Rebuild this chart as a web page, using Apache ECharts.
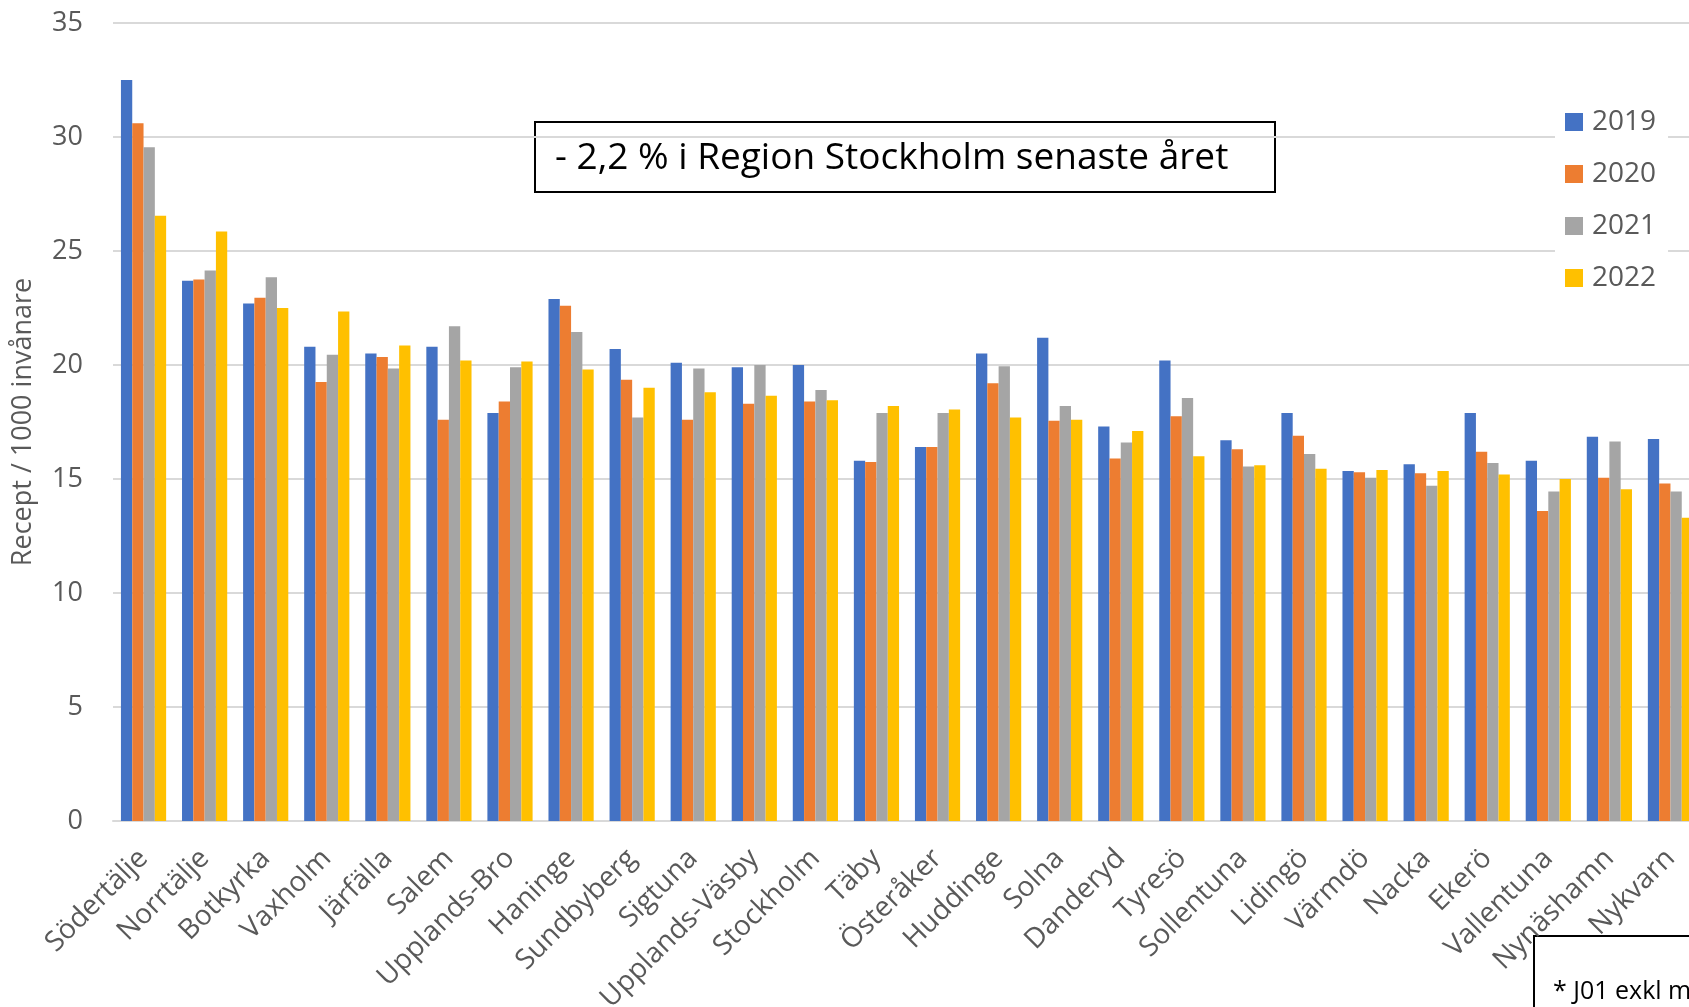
<!DOCTYPE html>
<html>
<head>
<meta charset="utf-8">
<title>Recept / 1000 invånare</title>
<script src="https://cdn.jsdelivr.net/npm/echarts@6/dist/echarts.min.js"></script>
<style>
  html, body { margin: 0; padding: 0; background: #fff; overflow: hidden; }
  /* the chart is wider than the window: the last group is cut off, as in the original */
  #main { width: 1720px; height: 1007px; }
</style>
</head>
<body>
<div id="main"></div>
<script>
// kommuner
var kommuner = ['Södertälje', 'Norrtälje', 'Botkyrka', 'Vaxholm', 'Järfälla', 'Salem', 'Upplands-Bro',
  'Haninge', 'Sundbyberg', 'Sigtuna', 'Upplands-Väsby', 'Stockholm', 'Täby', 'Österåker', 'Huddinge',
  'Solna', 'Danderyd', 'Tyresö', 'Sollentuna', 'Lidingö', 'Värmdö', 'Nacka', 'Ekerö', 'Vallentuna',
  'Nynäshamn', 'Nykvarn'];

var years = ['2019', '2020', '2021', '2022'];

var v2019 = [32.5, 23.7, 22.7, 20.8, 20.5, 20.8, 17.9, 22.9, 20.7, 20.1, 19.9, 20.0, 15.8, 16.4, 20.5,
  21.2, 17.3, 20.2, 16.7, 17.9, 15.35, 15.65, 17.9, 15.8, 16.85, 16.75];
var v2020 = [30.6, 23.75, 22.95, 19.25, 20.35, 17.6, 18.4, 22.6, 19.35, 17.6, 18.3, 18.4, 15.75, 16.4, 19.2,
  17.55, 15.9, 17.75, 16.3, 16.9, 15.3, 15.25, 16.2, 13.6, 15.05, 14.8];
var v2021 = [29.55, 24.15, 23.85, 20.45, 19.85, 21.7, 19.9, 21.45, 17.7, 19.85, 20.0, 18.9, 17.9, 17.9, 19.95,
  18.2, 16.6, 18.55, 15.55, 16.1, 15.05, 14.7, 15.7, 14.45, 16.65, 14.45];
var v2022 = [26.55, 25.85, 22.5, 22.35, 20.85, 20.2, 20.15, 19.8, 19.0, 18.8, 18.65, 18.45, 18.2, 18.05, 17.7,
  17.6, 17.1, 16.0, 15.6, 15.45, 15.4, 15.35, 15.2, 15.0, 14.55, 13.3];

var yTicks = [0, 5, 10, 15, 20, 25, 30, 35];

var colors = ['#4472C4', '#ED7D31', '#A5A5A5', '#FFC000'];
var values = [v2019, v2020, v2021, v2022];

var textGray = '#595959';
var font = '"Open Sans", "Noto Sans", sans-serif';

var series = years.map(function(y, i) {
  return {
    name: y,
    type: 'bar',
    data: values[i],
    barGap: '0%',
    barCategoryGap: '26%',
    itemStyle: { color: colors[i] }
  };
});

var chart = echarts.init(document.getElementById('main'), null, { renderer: 'canvas' });

var option = {
  animation: false,
  color: colors,
  textStyle: { fontFamily: font },
  grid: {
    left: 113,
    top: 23,
    bottom: 186,
    width: 1588,
    outerBoundsMode: 'none',  // labels may run off the bottom edge
    containLabel: false
  },
  legend: {
    data: years,
    orient: 'vertical',
    left: 1555,
    top: 102,
    itemWidth: 18,
    itemHeight: 18,
    itemGap: 22,
    padding: [5, 12, 5, 10],
    backgroundColor: '#fff',
    icon: 'rect',
    textStyle: { fontSize: 28, color: textGray, fontFamily: font, lineHeight: 30, padding: [0, 0, 0, 4] }
  },
  xAxis: {
    type: 'category',
    data: kommuner,
    axisTick: { show: false },
    axisLine: { lineStyle: { color: '#D9D9D9', width: 2 } },
    axisLabel: {
      interval: 0,
      rotate: 45,
      margin: 33,
      fontSize: 28,
      color: textGray,
      fontFamily: font
    }
  },
  yAxis: {
    type: 'value',
    min: yTicks[0],
    max: yTicks[yTicks.length - 1],
    interval: 5,
    name: 'Recept / 1000 invånare',
    nameLocation: 'middle',
    nameGap: 76,
    nameTextStyle: { fontSize: 27, color: textGray, fontFamily: font },
    axisLine: { show: false },
    axisTick: { show: false },
    axisLabel: { fontSize: 27, color: textGray, margin: 30, fontFamily: font },
    splitLine: { lineStyle: { color: '#D9D9D9', width: 2 } }
  },
  graphic: [
    {
      type: 'group',
      left: 534,
      top: 121,
      z: 100,
      children: [
        {
          type: 'rect',
          shape: { x: 0, y: 0, width: 740, height: 70 },
          style: { fill: '#fff', stroke: '#000', lineWidth: 2 }
        },
        {
          type: 'text',
          x: 20,
          y: 36,
          style: {
            text: '- 2,2 % i Region Stockholm senaste året',
            font: '37px ' + font,
            fill: '#000',
            textVerticalAlign: 'middle'
          }
        }
      ]
    },
    {
      // fotnot, avklippt i högerkanten
      type: 'group',
      left: 1533,
      top: 935,
      z: 100,
      children: [
        {
          type: 'rect',
          shape: { x: 0, y: 0, width: 320, height: 110 },
          style: { fill: '#fff', stroke: '#000', lineWidth: 2 }
        },
        {
          type: 'text',
          x: 19,
          y: 56,
          style: {
            text: '* J01 exkl metenamin',
            font: '25px ' + font,
            fill: '#000',
            textVerticalAlign: 'middle'
          }
        }
      ]
    }
  ],
  series: series
};

chart.setOption(option);
window.onresize = chart.resize;
</script>
</body>
</html>
